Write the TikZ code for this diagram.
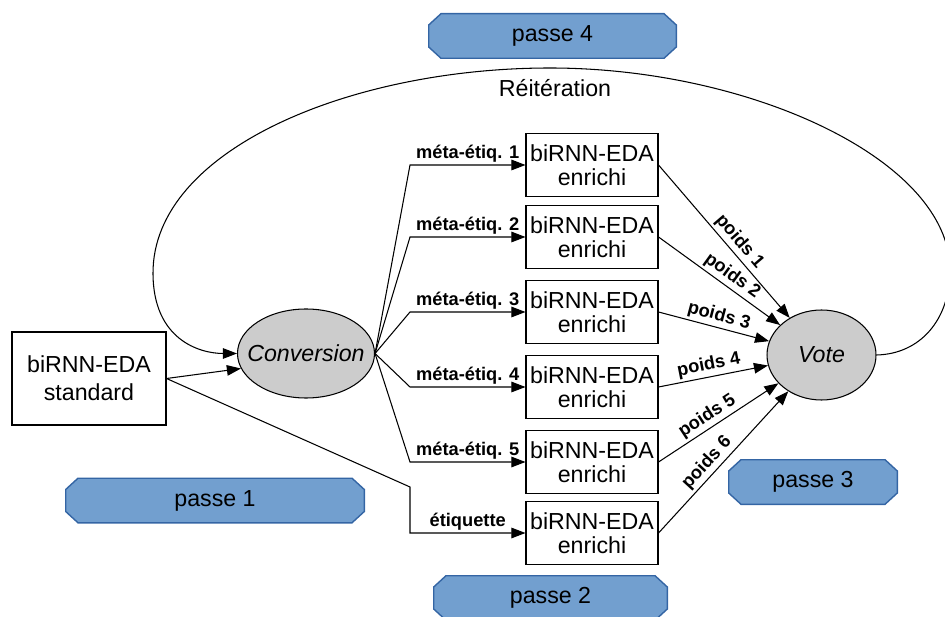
\documentclass[tikz,border=0pt]{standalone}
\usepackage{fontspec}
\setmainfont{Liberation Sans}
\usetikzlibrary{arrows.meta,shapes.geometric}
\newlength\pxl \setlength\pxl{0.02cm}
\definecolor{passefill}{HTML}{729FCF}
\definecolor{passeline}{HTML}{3465A4}
\definecolor{ellfill}{HTML}{CCCCCC}
\begin{document}
\begin{tikzpicture}[x=0.02cm,y=-0.02cm, line width=0.6pt,
  >={Triangle[length=8pt,width=6pt]},
  every node/.style={font=\fontsize{13.2}{13.6}\selectfont},
  model/.style={draw, rectangle, align=center, inner sep=0pt,
    minimum width=132\pxl, minimum height=63\pxl},
  oval/.style={draw, ellipse, fill=ellfill, inner sep=0pt},
  lab/.style={font=\fontsize{10.4}{12}\selectfont\bfseries, inner sep=1pt, above},
  wlab/.style={font=\fontsize{10.4}{12}\selectfont\bfseries, inner sep=1.5pt, sloped, above},
  passe/.style={rectangle, inner sep=0pt, minimum height=46\pxl,
    path picture={\filldraw[fill=passefill, draw=passeline, line width=0.8pt]
      ([xshift=13\pxl,yshift=-0.4pt]path picture bounding box.north west) --
      ([xshift=-13\pxl,yshift=-0.4pt]path picture bounding box.north east) --
      ([xshift=-0.4pt,yshift=-12\pxl]path picture bounding box.north east) --
      ([xshift=-0.4pt,yshift=12\pxl]path picture bounding box.south east) --
      ([xshift=-13\pxl,yshift=0.4pt]path picture bounding box.south east) --
      ([xshift=13\pxl,yshift=0.4pt]path picture bounding box.south west) --
      ([xshift=0.4pt,yshift=12\pxl]path picture bounding box.south west) --
      ([xshift=0.4pt,yshift=-12\pxl]path picture bounding box.north west) -- cycle;}}
]
\useasboundingbox (0,0) rectangle (945,617);

% passes
\node[passe, minimum width=249\pxl] (p4) at (552.5,36) {passe 4};
\node[passe, minimum width=300\pxl] (p1) at (215,500.5) {passe 1};
\node[passe, minimum width=235\pxl] (p2) at (550.5,598) {passe 2};
\node[passe, minimum width=170\pxl] (p3) at (813,482) {passe 3};

% main nodes
\node[draw, rectangle, align=center, inner sep=0pt, minimum width=154\pxl, minimum height=93\pxl,
  font=\fontsize{13.2}{16}\selectfont] (std) at (89,378.5) {biRNN-EDA\\standard};
\node[oval, minimum width=137\pxl, minimum height=89\pxl,
  label={[font=\fontsize{13.2}{15}\selectfont\itshape]center:Conversion}] (conv) at (306,353.5) {};
\node[oval, minimum width=109\pxl, minimum height=90\pxl,
  label={[font=\fontsize{13.2}{15}\selectfont\itshape]center:Vote}] (vote) at (821.5,355) {};

\node[model] (b1) at (592,165) {biRNN-EDA\\enrichi};
\node[model] (b2) at (592,237) {biRNN-EDA\\enrichi};
\node[model] (b3) at (592,312) {biRNN-EDA\\enrichi};
\node[model] (b4) at (592,387) {biRNN-EDA\\enrichi};
\node[model] (b5) at (592,462) {biRNN-EDA\\enrichi};
\node[model] (b6) at (592,533) {biRNN-EDA\\enrichi};

\node (reit) at (555,88) {Réitération};

% coordinates for bends
\coordinate (k1) at (410,165);
\coordinate (k2) at (410,237);
\coordinate (k3) at (410,312);
\coordinate (k4) at (410,387);
\coordinate (k5) at (410,462);
\coordinate (k6a) at (410,487);
\coordinate (k6) at (410,533);

% conversion fan
\draw[->] (conv.east) -- (k1) -- node[lab]{méta-étiq. 1} (b1.west);
\draw[->] (conv.east) -- (k2) -- node[lab]{méta-étiq. 2} (b2.west);
\draw[->] (conv.east) -- (k3) -- node[lab]{méta-étiq. 3} (b3.west);
\draw[->] (conv.east) -- (k4) -- node[lab]{méta-étiq. 4} (b4.west);
\draw[->] (conv.east) -- (k5) -- node[lab]{méta-étiq. 5} (b5.west);

% standard
\draw[->] (std.east) -- (conv.193);
\draw[->] (std.east) -- (k6a) -- (k6) -- node[lab]{étiquette} (b6.west);

% votes
\draw[->] (b1.east) -- node[wlab,pos=.55]{poids 1} (vote);
\draw[->] (b2.east) -- node[wlab,pos=.55]{poids 2} (vote);
\draw[->] (b3.east) -- node[wlab,pos=.52]{poids 3} (vote);
\draw[->] (b4.east) -- node[wlab,pos=.48]{poids 4} (vote);
\draw[->] (b5.east) -- node[wlab,pos=.46]{poids 5} (vote);
\draw[->] (b6.east) -- node[wlab,pos=.44]{poids 6} (vote);

% reiteration loop
\draw[->] (vote.east) .. controls (920,354) and (950,320) .. (950,270)
  .. controls (950,160) and (750,68) .. (550,68)
  .. controls (350,68) and (153,150) .. (153,273)
  .. controls (153,340) and (200,353.5) .. (conv.west);
\end{tikzpicture}
\end{document}
